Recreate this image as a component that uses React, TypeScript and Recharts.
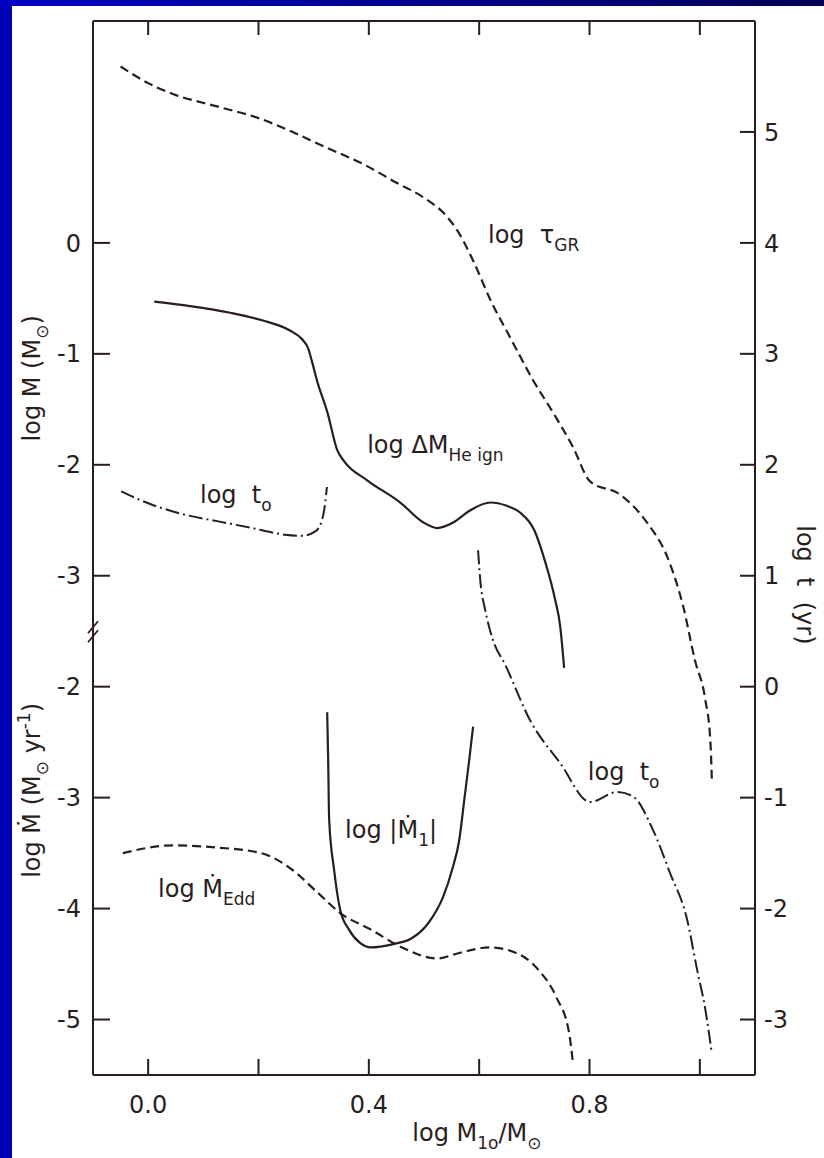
import { Line, LineChart, ReferenceDot, XAxis, YAxis } from "recharts";

const INK = "#2a1d1d";
const FONT = "'DejaVu Sans', sans-serif";
const FS = 24;

// x axis: log M1o / Msun
const X_TICKS = [0, 0.2, 0.4, 0.6, 0.8, 1.0];
const X_LABELED = [0, 0.4, 0.8];
// right axis: log t (yr)
const T_TICKS = [5, 4, 3, 2, 1, 0, -1, -2, -3];
// left axis in log M units; below the break the labels are log Mdot (= log M + 2)
const M_TICKS = [0, -1, -2, -3, -3.5, -4, -5, -6, -7];
const M_BREAK = -3.5;

// curves as [log M1o, value] pairs
// log tau_GR, in log t
const tauGR = [
  [-0.05, 5.59], [0.0, 5.44], [0.046, 5.34], [0.125, 5.23], [0.197, 5.13], [0.257, 5.01],
  [0.318, 4.87], [0.39, 4.71], [0.451, 4.54], [0.499, 4.41], [0.541, 4.24], [0.562, 4.1],
  [0.59, 3.83], [0.62, 3.49], [0.656, 3.15], [0.698, 2.76], [0.734, 2.47], [0.77, 2.16],
  [0.801, 1.85], [0.856, 1.73], [0.904, 1.48], [0.941, 1.17], [0.97, 0.72], [0.991, 0.24],
  [1.01, -0.12], [1.019, -0.48], [1.022, -0.87],
];
// log t_o, left branch, in log t
const tOnsetLow = [
  [-0.049, 1.76], [0.007, 1.64], [0.067, 1.55], [0.127, 1.49], [0.188, 1.43], [0.248, 1.37],
  [0.279, 1.36], [0.303, 1.4], [0.315, 1.5], [0.321, 1.66], [0.324, 1.8],
];
// log t_o, right branch, in log t
const tOnsetHigh = [
  [0.598, 1.23], [0.602, 0.96], [0.611, 0.69], [0.625, 0.42], [0.647, 0.2], [0.692, -0.3],
  [0.747, -0.69], [0.801, -1.04], [0.85, -0.95], [0.879, -0.99], [0.915, -1.29], [0.946, -1.68],
  [0.977, -2.1], [0.995, -2.55], [1.01, -2.91], [1.021, -3.28],
];
// log Delta M_He ign, in log M
const dMHeIgn = [
  [0.011, -0.53], [0.076, -0.57], [0.149, -0.63], [0.208, -0.7], [0.257, -0.79], [0.281, -0.88],
  [0.29, -0.95], [0.297, -1.07], [0.306, -1.24], [0.325, -1.53], [0.343, -1.87], [0.354, -1.96],
  [0.397, -2.14], [0.457, -2.34], [0.499, -2.52], [0.524, -2.57], [0.553, -2.52], [0.584, -2.41],
  [0.62, -2.34], [0.65, -2.37], [0.674, -2.43], [0.7, -2.59], [0.72, -2.88], [0.737, -3.2],
  [0.747, -3.46], [0.754, -3.83],
];
// log |Mdot_1|, in log Mdot
const mdot1 = [
  [0.3245, -2.23], [0.3263, -2.66], [0.3281, -3.2], [0.337, -3.65], [0.348, -4.01], [0.364, -4.19],
  [0.384, -4.31], [0.404, -4.35], [0.444, -4.32], [0.477, -4.27], [0.508, -4.13], [0.535, -3.89],
  [0.551, -3.65], [0.564, -3.38], [0.573, -3.02], [0.582, -2.66], [0.589, -2.36],
];
// log Mdot_Edd, in log Mdot
const mdotEdd = [
  [-0.046, -3.5], [0.045, -3.43], [0.125, -3.45], [0.205, -3.5], [0.261, -3.65], [0.308, -3.86],
  [0.348, -4.04], [0.404, -4.19], [0.46, -4.35], [0.524, -4.45], [0.564, -4.4], [0.62, -4.35],
  [0.667, -4.4], [0.707, -4.55], [0.74, -4.8], [0.763, -5.12], [0.77, -5.39],
];

type Part = { t: string; sub?: boolean; sup?: boolean };

// curve labels, anchored in data units on the curve's own axis
const NOTES: { x: number; y: number; axis: string; parts: Part[] }[] = [
  { x: 0.616, y: 4.0, axis: "time", parts: [{ t: "log\u00a0\u00a0\u03c4" }, { t: "GR", sub: true }] },
  { x: 0.397, y: -1.89, axis: "mass", parts: [{ t: "log \u0394M" }, { t: "He ign", sub: true }] },
  { x: 0.094, y: 1.66, axis: "time", parts: [{ t: "log\u00a0\u00a0t" }, { t: "o", sub: true }] },
  { x: 0.357, y: -3.36, axis: "rate", parts: [{ t: "log |\u1e40" }, { t: "1", sub: true }, { t: "|" }] },
  { x: 0.797, y: -0.84, axis: "time", parts: [{ t: "log\u00a0\u00a0t" }, { t: "o", sub: true }] },
  { x: 0.018, y: -3.9, axis: "rate", parts: [{ t: "log \u1e40" }, { t: "Edd", sub: true }] },
];

const toPoints = (pairs: number[][]) => pairs.map(([x, y]) => ({ x, y }));

function Rich({ parts, ...rest }: { parts: Part[]; [k: string]: any }) {
  let shift = 0;
  return (
    <text fill={INK} fontFamily={FONT} fontSize={FS} {...rest}>
      {parts.map((p, i) => {
        const target = p.sub ? 8 : p.sup ? -10 : 0;
        const dy = target - shift;
        shift = target;
        return (
          <tspan key={i} dy={dy} fontSize={p.sub || p.sup ? 17 : FS}>
            {p.t}
          </tspan>
        );
      })}
    </text>
  );
}

function BottomTick({ x, y, payload }: any) {
  const v = payload.value;
  return (
    <g>
      <line x1={x} x2={x} y1={y} y2={y - 16} stroke={INK} strokeWidth={2} />
      {X_LABELED.includes(v) && (
        <text x={x} y={y + 38} textAnchor="middle" fill={INK} fontFamily={FONT} fontSize={FS}>
          {v.toFixed(1)}
        </text>
      )}
    </g>
  );
}

function TopTick({ x, y }: any) {
  return <line x1={x} x2={x} y1={y} y2={y + 14} stroke={INK} strokeWidth={2} />;
}

function LeftTick({ x, y, payload }: any) {
  const m = payload.value;
  if (m === M_BREAK) {
    return (
      <g stroke={INK} strokeWidth={1.8}>
        <line x1={x - 5} y1={y + 2} x2={x + 5} y2={y - 10} />
        <line x1={x - 5} y1={y + 11} x2={x + 5} y2={y - 1} />
      </g>
    );
  }
  const label = m >= -3 ? m : m + 2;
  return (
    <g>
      <line x1={x} x2={x + 17} y1={y} y2={y} stroke={INK} strokeWidth={2} />
      <text x={x - 12} y={y} dy="0.36em" textAnchor="end" fill={INK} fontFamily={FONT} fontSize={FS}>
        {String(label)}
      </text>
    </g>
  );
}

function RightTick({ x, y, payload }: any) {
  return (
    <g>
      <line x1={x} x2={x - 15} y1={y} y2={y} stroke={INK} strokeWidth={2} />
      <text x={x + 9} y={y} dy="0.36em" textAnchor="start" fill={INK} fontFamily={FONT} fontSize={FS}>
        {String(payload.value)}
      </text>
    </g>
  );
}

function LeftTitles({ viewBox }: any) {
  const { x, y, height } = viewBox;
  const cx = x + 40;
  const yUp = y + height * 0.339;
  const yLow = y + height * 0.73;
  return (
    <g>
      <Rich
        x={cx}
        y={yUp}
        textAnchor="middle"
        transform={`rotate(-90 ${cx} ${yUp})`}
        parts={[{ t: "log M (M" }, { t: "\u2299", sub: true }, { t: ")" }]}
      />
      <Rich
        x={cx}
        y={yLow}
        textAnchor="middle"
        transform={`rotate(-90 ${cx} ${yLow})`}
        parts={[{ t: "log \u1e40 (M" }, { t: "\u2299", sub: true }, { t: " yr" }, { t: "-1", sup: true }, { t: ")" }]}
      />
    </g>
  );
}

function RightTitle({ viewBox }: any) {
  const { x, y, height } = viewBox;
  const cx = x + 42;
  const cy = y + height * 0.535;
  return <Rich x={cx} y={cy} textAnchor="middle" transform={`rotate(90 ${cx} ${cy})`} parts={[{ t: "log\u00a0\u00a0t\u00a0\u00a0(yr)" }]} />;
}

function BottomTitle({ viewBox }: any) {
  const { x, y, width } = viewBox;
  return (
    <Rich
      x={x + width * 0.58}
      y={y + 66}
      textAnchor="middle"
      parts={[{ t: "log M" }, { t: "1o", sub: true }, { t: "/M" }, { t: "\u2299", sub: true }]}
    />
  );
}

const common = { type: "monotone" as const, stroke: INK, dot: false, isAnimationActive: false, xAxisId: "bottom" };

export default function App() {
  return (
    <div style={{ position: "absolute", left: 0, top: 0, width: 824, height: 1158, background: "#0000b4", overflow: "hidden" }}>
      <div style={{ position: "absolute", left: 0, top: 0, width: 824, height: 6, background: "linear-gradient(to right, #0000c4, #000058)" }} />
      <div style={{ position: "absolute", left: 12, top: 6, right: 0, bottom: 0, background: "#ffffff" }} />
      <LineChart width={824} height={1158} margin={{ top: 0, right: 0, bottom: 0, left: 0 }} style={{ position: "absolute", left: 0, top: 0 }}>
        <XAxis
          xAxisId="bottom"
          type="number"
          dataKey="x"
          domain={[-0.1, 1.1]}
          allowDataOverflow
          ticks={X_TICKS}
          interval={0}
          height={83}
          tickSize={0}
          tickMargin={0}
          tickLine={false}
          tick={<BottomTick />}
          axisLine={{ stroke: INK, strokeWidth: 2 }}
          label={(p: any) => <BottomTitle viewBox={p.viewBox} />}
        />
        <XAxis
          xAxisId="top"
          orientation="top"
          type="number"
          dataKey="x"
          domain={[-0.1, 1.1]}
          allowDataOverflow
          ticks={X_TICKS}
          interval={0}
          height={21}
          tickSize={0}
          tickMargin={0}
          tickLine={false}
          tick={<TopTick />}
          axisLine={{ stroke: INK, strokeWidth: 2 }}
        />
        <YAxis
          yAxisId="mass"
          type="number"
          domain={[-7.5, 2.0]}
          allowDataOverflow
          ticks={M_TICKS}
          interval={0}
          width={93}
          tickSize={0}
          tickMargin={0}
          tickLine={false}
          tick={<LeftTick />}
          axisLine={{ stroke: INK, strokeWidth: 2 }}
          label={(p: any) => <LeftTitles viewBox={p.viewBox} />}
        />
        <YAxis
          yAxisId="time"
          orientation="right"
          type="number"
          domain={[-3.5, 6.0]}
          allowDataOverflow
          ticks={T_TICKS}
          interval={0}
          width={69}
          tickSize={0}
          tickMargin={0}
          tickLine={false}
          tick={<RightTick />}
          axisLine={{ stroke: INK, strokeWidth: 2 }}
          label={(p: any) => <RightTitle viewBox={p.viewBox} />}
        />
        <YAxis yAxisId="rate" type="number" domain={[-5.5, 4.0]} allowDataOverflow hide />

        <Line {...common} data={toPoints(tauGR)} dataKey="y" yAxisId="time" strokeWidth={2.2} strokeDasharray="9 5" />
        <Line {...common} data={toPoints(tOnsetLow)} dataKey="y" yAxisId="time" strokeWidth={2} strokeDasharray="14 4 2 4" />
        <Line {...common} data={toPoints(tOnsetHigh)} dataKey="y" yAxisId="time" strokeWidth={2} strokeDasharray="14 4 2 4" />
        <Line {...common} data={toPoints(dMHeIgn)} dataKey="y" yAxisId="mass" strokeWidth={2.2} />
        <Line {...common} data={toPoints(mdot1)} dataKey="y" yAxisId="rate" strokeWidth={2.2} />
        <Line {...common} data={toPoints(mdotEdd)} dataKey="y" yAxisId="rate" strokeWidth={2.2} strokeDasharray="9 5" />

        {NOTES.map((n, i) => (
          <ReferenceDot
            key={i}
            x={n.x}
            y={n.y}
            xAxisId="bottom"
            yAxisId={n.axis}
            r={0}
            ifOverflow="visible"
            shape={(p: any) => <Rich x={p.cx} y={p.cy} parts={n.parts} />}
          />
        ))}
      </LineChart>
    </div>
  );
}
